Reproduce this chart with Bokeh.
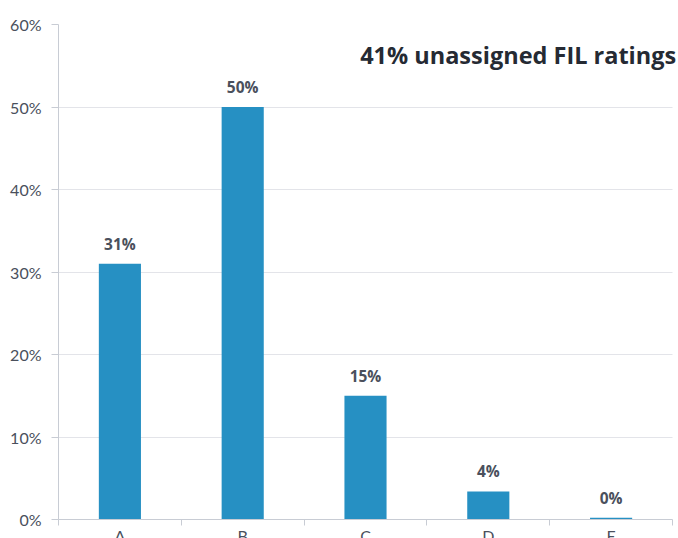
from bokeh.plotting import figure
from bokeh.models import FixedTicker, Label, LabelSet, ColumnDataSource, Range1d
from bokeh.core.properties import value
from bokeh.embed import file_html
from bokeh.resources import INLINE

categories = ["A", "B", "C", "D", "E"]
shares = [31, 50, 15, 3.4, 0.2]
share_labels = ["31%", "50%", "15%", "4%", "0%"]
y_ticks = [0, 10, 20, 30, 40, 50, 60]
y_tick_labels = ["0%", "10%", "20%", "30%", "40%", "50%", "60%"]
headline = "41% unassigned FIL ratings"

n = len(categories)
xs = [i + 0.5 for i in range(n)]
src = ColumnDataSource(dict(x=xs, top=shares, lab=share_labels))

# frame spans 58..678, category area ends at 672
x_end = n * 620.0 / 614.0
p = figure(width=678, height=559, x_range=Range1d(0, x_end), y_range=Range1d(0, 60),
           output_backend="svg", toolbar_location=None,
           min_border_left=58, min_border_right=0, min_border_top=24, min_border_bottom=40)
p.outline_line_color = None
p.background_fill_color = "white"
p.border_fill_color = "white"

p.vbar(x="x", top="top", width=0.343, bottom=0, source=src, color="#2690c3", line_color=None)

labels = LabelSet(x="x", y="top", text="lab", source=src, y_offset=14, text_align="center",
                  text_baseline="alphabetic", text_font=value("Open Sans"),
                  text_font_style=value("bold"),
                  text_font_size=value("15.5px"), text_color="#4a505c")
p.add_layout(labels)

p.add_layout(Label(x=n + 0.03, y=56.3, text=headline, text_align="right",
                   text_baseline="middle", text_font="Open Sans", text_font_style="bold",
                   text_font_size="23.5px", text_color="#252a33"))

# x axis
p.xaxis.bounds = (0, n)
p.xaxis.ticker = FixedTicker(ticks=xs, minor_ticks=list(range(n + 1)))
p.xaxis.major_label_overrides = {x: c for x, c in zip(xs, categories)}
p.xaxis.major_tick_out = 0
p.xaxis.major_tick_in = 0
p.xaxis.minor_tick_out = 6
p.xaxis.minor_tick_in = 0
p.xaxis.minor_tick_line_color = "#c8ccd4"
p.xaxis.axis_line_color = "#c8ccd4"
p.xaxis.major_label_standoff = 0
p.xaxis.major_label_text_font = "Lato"
p.xaxis.major_label_text_font_size = "16px"
p.xaxis.major_label_text_color = "#4a505c"
p.xgrid.visible = False

# y axis
p.yaxis.ticker = FixedTicker(ticks=y_ticks)
p.yaxis.major_label_overrides = {t: l for t, l in zip(y_ticks, y_tick_labels)}
p.yaxis.major_tick_out = 7
p.yaxis.major_tick_in = 0
p.yaxis.major_tick_line_color = "#c8ccd4"
p.yaxis.minor_tick_line_color = None
p.yaxis.axis_line_color = "#c8ccd4"
p.yaxis.major_label_standoff = 10
p.yaxis.major_label_text_font = "Lato"
p.yaxis.major_label_text_font_size = "16px"
p.yaxis.major_label_text_color = "#4a505c"
p.ygrid.grid_line_color = "#e3e4e9"
p.ygrid.cross_bounds = (0, n)

open("out.html", "w").write(file_html(p, INLINE))
